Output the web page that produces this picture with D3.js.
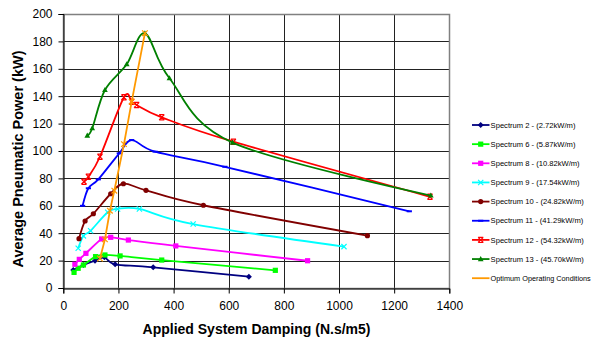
<!DOCTYPE html>
<html><head><meta charset="utf-8">
<script src="https://cdn.jsdelivr.net/npm/d3@7"></script>
<style>body{margin:0;background:#fff}svg{display:block;font-family:"Liberation Sans",Arial,sans-serif}</style>
</head><body><svg id="c" width="592" height="341"></svg>
<script>
const seriesNames = ["Spectrum 2 - (2.72kW/m)","Spectrum 6 - (5.87kW/m)","Spectrum 8 - (10.82kW/m)","Spectrum 9 - (17.54kW/m)","Spectrum 10 - (24.82kW/m)","Spectrum 11 - (41.29kW/m)","Spectrum 12 - (54.32kW/m)","Spectrum 13 - (45.70kW/m)","Optimum Operating Conditions"];
const seriesColors = ["#000080","#00FF00","#FF00FF","#00FFFF","#800000","#0000FF","#FF0000","#008000","#FF9900"];
const seriesMarkers = ["diamond","square","square","x","circle","dash","asterisk","triangle","none"];
const s2x = [36,73,115,149,188,326,673];
const s2y = [13.1,16.8,19.9,22.4,17.3,15.1,8.3];
const s6x = [39,54,73,117,151,206,357,769];
const s6y = [11.4,14.4,16.8,22.9,24.1,23.4,20.4,12.9];
const s8x = [42,58,82,139,172,236,408,886];
const s8y = [17.3,20.9,25.3,35.8,37,35,30.7,19.9];
const s9x = [54,73,99,161,197,276,471,1018];
const s9y = [29,38,41.8,55.3,57.7,57.7,46.7,30.2];
const s10x = [57,79,109,172,218,300,508,1103];
const s10y = [36,48.9,54.2,68.8,76.1,71.3,60.4,38.2];
const s11x = [70,91,127,203,248,333,586,1255];
const s11y = [60,72.8,79.3,98.3,108,99.5,88.5,56];
const s12x = [75,91,133,220,248,266,357,617,1330];
const s12y = [77.6,81.2,95.8,139.2,136,133.6,124.6,106.8,66.6];
const s13x = [87,105,151,230,296,385,614,1333];
const s13y = [111.2,116.6,144.5,163.3,185.9,153.1,106.1,67.5];
const optX = [133,151,169,185,220,248,296];
const optY = [21.5,35.5,56.4,71,105,136,186];
const xTicks = [0,200,400,600,800,1000,1200,1400];
const yTicks = [0,20,40,60,80,100,120,140,160,180,200];

const allX = [s2x,s6x,s8x,s9x,s10x,s11x,s12x,s13x,optX];
const allY = [s2y,s6y,s8y,s9y,s10y,s11y,s12y,s13y,optY];

const svg = d3.select("#c");
const L=63.3,R=449.3,T=14,B=288;
const x = d3.scaleLinear().domain([0,1400]).range([L,R]);
const y = d3.scaleLinear().domain([0,200]).range([B,T]);

// grid
const g = svg.append("g");
g.selectAll(".hg").data(yTicks).join("line")
 .attr("x1",L).attr("x2",R).attr("y1",d=>Math.round(y(d))+0.5).attr("y2",d=>Math.round(y(d))+0.5)
 .attr("stroke","#222").attr("stroke-width",1);
g.selectAll(".vg").data(xTicks).join("line")
 .attr("y1",T).attr("y2",B).attr("x1",d=>Math.round(x(d))+0.5).attr("x2",d=>Math.round(x(d))+0.5)
 .attr("stroke","#222").attr("stroke-width",1);
svg.append("rect").attr("x",Math.round(L)+0.5).attr("y",Math.round(T)+0.5)
 .attr("width",Math.round(R)-Math.round(L)).attr("height",Math.round(B)-Math.round(T))
 .attr("fill","none").attr("stroke","#808080").attr("stroke-width",1.5);

// axes
const xa = svg.append("g").attr("transform",`translate(0,${Math.round(B)+0.5})`)
 .call(d3.axisBottom(x).tickValues(xTicks).tickSize(5).tickPadding(8).tickFormat(d3.format("d")));
const ya = svg.append("g").attr("transform",`translate(${Math.round(L)+0.5},0)`)
 .call(d3.axisLeft(y).tickValues(yTicks).tickSize(5).tickPadding(6).tickFormat(d3.format("d")));
[xa,ya].forEach(a=>{a.selectAll("path,line").attr("stroke","#000");
 a.selectAll("text").attr("font-size","12px").attr("fill","#000").attr("font-family","'Liberation Sans',Arial,sans-serif");});

svg.append("text").attr("x",256.5).attr("y",334).attr("text-anchor","middle")
 .attr("font-size","14px").attr("font-weight","bold").text("Applied System Damping (N.s/m5)");
svg.append("text").attr("transform","translate(23,159) rotate(-90)").attr("text-anchor","middle")
 .attr("font-size","14.5px").attr("font-weight","bold").text("Average Pneumatic Power (kW)");

function marker(sel, type, color, s){
  if(type==="diamond") sel.append("path").attr("d",`M0,${-s}L${s},0L0,${s}L${-s},0Z`).attr("fill",color);
  else if(type==="square") sel.append("rect").attr("x",-s).attr("y",-s).attr("width",2*s).attr("height",2*s).attr("fill",color);
  else if(type==="circle") sel.append("circle").attr("r",s).attr("fill",color);
  else if(type==="triangle") sel.append("path").attr("d",`M0,${-s*1.2}L${s*1.1},${s*0.8}L${-s*1.1},${s*0.8}Z`).attr("fill",color);
  else if(type==="x") sel.append("path").attr("d",`M${-s},${-s}L${s},${s}M${-s},${s}L${s},${-s}`).attr("stroke",color).attr("stroke-width",1.2);
  else if(type==="asterisk") sel.append("path").attr("d",`M${-s},${-s}L${s},${s}M${-s},${s}L${s},${-s}M${-s},${-s}L${s},${-s}M${-s},${s}L${s},${s}`).attr("stroke",color).attr("stroke-width",1.2);
  else if(type==="dash") sel.append("path").attr("d",`M${-s},0L${s},0`).attr("stroke",color).attr("stroke-width",2);
}

const line = d3.line().x(d=>x(d[0])).y(d=>y(d[1]));
allX.forEach((xs,i)=>{
  const pts = xs.map((v,j)=>[v,allY[i][j]]);
  const isOpt = i===8;
  svg.append("path").datum(pts)
    .attr("d", line.curve(isOpt?d3.curveLinear:d3.curveCatmullRom.alpha(0))(pts))
    .attr("fill","none").attr("stroke",seriesColors[i]).attr("stroke-width",1.8);
  const mg = svg.append("g");
  pts.forEach(p=>{
    const m = mg.append("g").attr("transform",`translate(${x(p[0])},${y(p[1])})`);
    marker(m, isOpt?"x":seriesMarkers[i], seriesColors[i], isOpt?2.8:(seriesMarkers[i]==="diamond"?3:2.6));
  });
});

// legend
const lg = svg.append("g");
seriesNames.forEach((n,i)=>{
  const yy = 125 + i*19.15;
  lg.append("line").attr("x1",472).attr("x2",489.5).attr("y1",yy).attr("y2",yy).attr("stroke",seriesColors[i]).attr("stroke-width",1.8);
  if(seriesMarkers[i]!=="none"){
    const m = lg.append("g").attr("transform",`translate(480.7,${yy})`);
    marker(m, seriesMarkers[i], seriesColors[i], seriesMarkers[i]==="diamond"?3:2.6);
  }
  lg.append("text").attr("x",490.6).attr("y",yy+2.7).attr("font-size", i===8?"7.3px":"7.6px").attr("fill","#000").text(n);
});
</script></body></html>
